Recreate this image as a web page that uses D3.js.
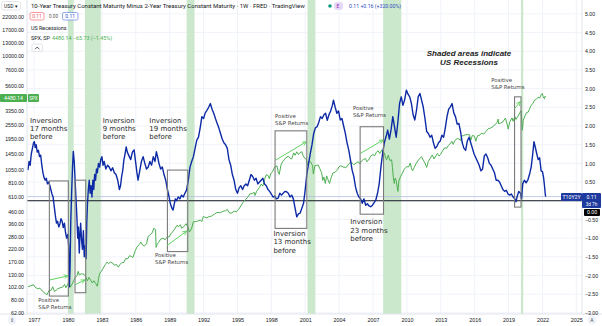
<!DOCTYPE html>
<meta charset="utf-8">
<body style="margin:0;background:#fff">
<script src="https://d3js.org/d3.v7.min.js"></script>
<svg></svg>
<script>
var width = 602;
var height = 326;

// ---- data ----
var recessions = [[1980.0, 1980.5], [1981.5, 1982.9], [1990.5, 1991.2], [2001.2, 2001.9], [2007.9, 2009.5], [2020.1, 2020.3]];

var spreadYears = [1976.45,1976.55,1976.65,1976.75,1976.85,1976.95,1977.02,1977.10,1977.18,1977.28,1977.38,1977.48,1977.58,1977.68,1977.78,1977.88,1977.98,1978.08,1978.18,1978.28,1978.38,1978.48,1978.58,1978.68,1978.78,1978.88,1978.98,1979.08,1979.18,1979.28,1979.38,1979.48,1979.58,1979.68,1979.78,1979.88,1979.98,1980.06,1980.12,1980.18,1980.24,1980.32,1980.40,1980.47,1980.55,1980.62,1980.70,1980.78,1980.86,1980.92,1981.00,1981.06,1981.12,1981.20,1981.28,1981.36,1981.44,1981.52,1981.60,1981.66,1981.72,1981.80,1981.88,1981.96,1982.04,1982.12,1982.20,1982.28,1982.36,1982.44,1982.52,1982.60,1982.70,1982.80,1982.90,1983.00,1983.10,1983.20,1983.35,1983.50,1983.65,1983.80,1983.95,1984.10,1984.25,1984.40,1984.55,1984.65,1984.75,1984.85,1984.95,1985.05,1985.15,1985.25,1985.40,1985.55,1985.70,1985.85,1986.00,1986.10,1986.20,1986.35,1986.50,1986.65,1986.80,1986.95,1987.10,1987.25,1987.40,1987.55,1987.70,1987.82,1987.95,1988.05,1988.20,1988.35,1988.50,1988.65,1988.80,1988.95,1989.05,1989.20,1989.30,1989.40,1989.50,1989.60,1989.75,1989.90,1990.05,1990.20,1990.35,1990.50,1990.65,1990.80,1990.95,1991.10,1991.25,1991.40,1991.55,1991.70,1991.85,1992.00,1992.15,1992.30,1992.45,1992.60,1992.75,1992.90,1993.05,1993.20,1993.35,1993.50,1993.65,1993.80,1993.95,1994.10,1994.25,1994.40,1994.55,1994.70,1994.85,1995.00,1995.15,1995.30,1995.45,1995.60,1995.75,1995.90,1996.05,1996.20,1996.35,1996.50,1996.65,1996.80,1996.95,1997.10,1997.25,1997.40,1997.55,1997.70,1997.85,1998.00,1998.15,1998.30,1998.45,1998.60,1998.75,1998.90,1999.05,1999.20,1999.35,1999.50,1999.65,1999.80,1999.95,2000.10,2000.25,2000.40,2000.55,2000.70,2000.85,2001.00,2001.15,2001.30,2001.45,2001.60,2001.75,2001.90,2002.05,2002.20,2002.35,2002.50,2002.65,2002.80,2002.95,2003.10,2003.25,2003.40,2003.50,2003.65,2003.80,2003.95,2004.10,2004.25,2004.40,2004.55,2004.70,2004.85,2005.00,2005.15,2005.30,2005.45,2005.60,2005.75,2005.90,2006.05,2006.20,2006.35,2006.50,2006.65,2006.80,2006.95,2007.10,2007.25,2007.40,2007.55,2007.70,2007.85,2008.00,2008.15,2008.30,2008.45,2008.60,2008.75,2008.90,2009.05,2009.20,2009.35,2009.50,2009.65,2009.80,2009.95,2010.10,2010.25,2010.40,2010.55,2010.70,2010.85,2011.00,2011.15,2011.30,2011.45,2011.60,2011.75,2011.90,2012.05,2012.20,2012.35,2012.50,2012.65,2012.80,2012.95,2013.10,2013.25,2013.40,2013.55,2013.70,2013.85,2014.00,2014.15,2014.30,2014.45,2014.60,2014.75,2014.90,2015.05,2015.20,2015.35,2015.50,2015.65,2015.80,2015.95,2016.10,2016.25,2016.40,2016.55,2016.70,2016.85,2017.00,2017.15,2017.30,2017.45,2017.60,2017.75,2017.90,2018.05,2018.20,2018.35,2018.50,2018.65,2018.80,2018.95,2019.10,2019.25,2019.40,2019.55,2019.65,2019.75,2019.90,2020.05,2020.15,2020.25,2020.40,2020.55,2020.70,2020.85,2021.00,2021.12,2021.25,2021.35,2021.50,2021.62,2021.75,2021.88,2022.00,2022.10,2022.18,2022.24,2022.28];
var spreadValues = [0.82,1.05,0.95,1.25,1.40,1.55,1.58,1.42,1.50,1.30,1.35,1.18,1.22,0.95,0.75,0.62,0.55,0.60,0.45,0.50,0.42,0.30,0.18,0.10,-0.15,-0.40,-0.60,-0.55,-0.70,-0.62,-0.48,-0.55,-0.72,-0.60,-0.85,-1.00,-0.90,-1.20,-2.30,-1.80,-0.60,0.20,0.90,1.32,1.05,0.60,0.10,-0.40,-1.00,-0.70,-1.40,-0.90,-0.60,-1.05,-1.30,-0.80,-1.50,-1.20,-1.55,-0.60,-0.10,0.30,0.55,0.20,0.40,0.10,0.55,0.30,0.70,0.55,0.85,0.75,1.00,0.90,1.10,1.18,0.95,1.05,0.85,0.95,0.90,0.80,0.88,0.75,0.70,0.55,0.30,0.40,0.65,0.82,1.10,1.25,1.44,1.30,1.20,1.10,1.30,1.36,1.00,0.75,0.55,0.80,1.05,1.18,1.00,0.85,0.90,1.05,0.95,1.18,1.05,1.31,1.15,1.00,0.85,0.90,0.70,0.55,0.30,0.10,-0.07,-0.20,-0.25,-0.10,0.05,0.00,0.10,0.05,0.15,0.10,0.20,0.29,0.55,0.90,1.05,1.18,1.40,1.62,1.70,1.95,2.25,2.20,2.35,2.42,2.50,2.60,2.45,2.34,2.20,2.07,1.95,1.80,1.65,1.55,1.50,1.40,1.10,0.95,0.70,0.55,0.30,0.20,0.35,0.40,0.30,0.40,0.45,0.40,0.55,0.70,0.65,0.55,0.60,0.45,0.50,0.55,0.60,0.45,0.40,0.30,0.25,0.18,0.10,0.12,0.05,0.07,0.20,0.15,0.20,0.25,0.24,0.20,0.10,0.15,0.05,-0.20,-0.43,-0.35,-0.33,-0.20,-0.07,0.30,0.73,1.00,1.27,1.50,1.80,1.95,1.98,2.10,2.25,2.20,2.30,2.34,2.15,2.30,2.40,2.55,2.69,2.50,2.34,2.40,2.16,2.20,2.00,1.80,1.55,1.36,1.10,0.82,0.65,0.37,0.20,0.10,0.05,-0.07,0.05,-0.12,-0.08,-0.14,-0.16,-0.12,-0.05,0.02,0.20,0.46,0.90,1.27,1.55,1.71,1.89,1.65,1.90,2.25,1.98,1.70,2.10,2.60,2.78,2.55,2.70,2.96,2.85,2.78,2.60,2.30,2.16,2.42,2.78,2.87,2.69,2.50,2.20,1.85,1.80,1.70,1.75,1.55,1.40,1.45,1.55,1.60,1.75,1.70,1.95,2.25,2.45,2.51,2.60,2.35,2.25,2.05,2.07,1.85,1.55,1.40,1.35,1.60,1.70,1.55,1.40,1.25,1.15,1.05,0.95,0.80,0.85,1.20,1.25,1.15,1.00,0.95,0.85,0.75,0.55,0.55,0.50,0.40,0.30,0.25,0.28,0.18,0.15,0.18,0.10,0.05,-0.03,0.10,0.25,0.20,0.05,0.45,0.55,0.48,0.55,0.70,0.90,1.20,1.58,1.45,1.25,1.10,1.15,0.80,0.78,0.62,0.40,0.20,0.11];

var spxYears = [1976.45,1976.7,1976.95,1977.1,1977.3,1977.5,1977.7,1977.85,1978.0,1978.15,1978.3,1978.5,1978.65,1978.8,1978.95,1979.1,1979.3,1979.5,1979.7,1979.8,1979.95,1980.1,1980.2,1980.35,1980.5,1980.65,1980.8,1980.9,1981.0,1981.15,1981.3,1981.45,1981.6,1981.72,1981.85,1982.0,1982.15,1982.3,1982.45,1982.6,1982.7,1982.8,1982.95,1983.1,1983.3,1983.45,1983.6,1983.75,1983.95,1984.1,1984.3,1984.45,1984.6,1984.75,1984.95,1985.1,1985.3,1985.45,1985.6,1985.75,1985.95,1986.1,1986.3,1986.45,1986.6,1986.75,1986.95,1987.1,1987.3,1987.45,1987.6,1987.75,1987.8,1987.9,1988.0,1988.2,1988.4,1988.6,1988.8,1988.95,1989.1,1989.3,1989.5,1989.65,1989.8,1989.95,1990.05,1990.25,1990.45,1990.6,1990.75,1990.95,1991.1,1991.3,1991.5,1991.7,1991.85,1991.98,1992.1,1992.3,1992.5,1992.7,1992.95,1993.2,1993.5,1993.7,1993.95,1994.1,1994.3,1994.5,1994.7,1994.9,1995.1,1995.3,1995.5,1995.7,1995.95,1996.1,1996.3,1996.5,1996.55,1996.7,1996.95,1997.1,1997.25,1997.4,1997.55,1997.7,1997.82,1997.95,1998.1,1998.3,1998.5,1998.62,1998.7,1998.85,1998.98,1999.15,1999.3,1999.5,1999.65,1999.8,1999.98,2000.1,2000.25,2000.4,2000.55,2000.7,2000.8,2000.95,2001.1,2001.2,2001.35,2001.5,2001.65,2001.72,2001.85,2001.98,2002.15,2002.3,2002.45,2002.55,2002.65,2002.78,2002.9,2002.98,2003.15,2003.3,2003.45,2003.65,2003.85,2003.98,2004.15,2004.35,2004.55,2004.7,2004.85,2004.98,2005.15,2005.3,2005.5,2005.7,2005.82,2005.98,2006.15,2006.35,2006.45,2006.6,2006.8,2006.98,2007.15,2007.3,2007.45,2007.6,2007.78,2007.9,2008.0,2008.1,2008.2,2008.35,2008.5,2008.65,2008.72,2008.8,2008.88,2008.95,2009.05,2009.15,2009.2,2009.3,2009.45,2009.6,2009.75,2009.98,2010.15,2010.3,2010.4,2010.5,2010.65,2010.8,2010.98,2011.15,2011.3,2011.45,2011.6,2011.75,2011.9,2012.05,2012.25,2012.4,2012.55,2012.7,2012.85,2012.98,2013.15,2013.35,2013.5,2013.65,2013.8,2013.98,2014.1,2014.25,2014.45,2014.6,2014.75,2014.85,2014.98,2015.15,2015.35,2015.55,2015.65,2015.8,2015.98,2016.1,2016.25,2016.45,2016.6,2016.8,2016.98,2017.2,2017.4,2017.6,2017.8,2017.98,2018.08,2018.12,2018.3,2018.5,2018.72,2018.85,2018.97,2019.1,2019.3,2019.4,2019.55,2019.65,2019.8,2019.98,2020.1,2020.18,2020.22,2020.3,2020.45,2020.6,2020.75,2020.85,2020.98,2021.15,2021.3,2021.45,2021.6,2021.75,2021.9,2021.99,2022.05,2022.12,2022.18,2022.23,2022.28];
var spxValues = [103,105,107,102,99,100,96,92,90,88,95,96,103,94,96,99,101,102,108,101,107,114,102,108,116,124,128,140,130,133,133,131,124,116,124,118,111,116,110,104,121,134,140,148,160,168,163,168,165,158,160,152,160,166,167,180,180,191,188,184,211,226,238,250,236,231,242,280,290,300,330,318,225,240,247,265,270,262,278,277,294,310,330,349,340,353,329,340,360,340,305,330,375,375,380,387,375,417,410,405,415,418,435,450,448,460,466,478,445,445,462,455,478,512,550,580,615,650,655,670,630,685,740,790,760,870,950,940,880,970,1010,1110,1135,990,960,1150,1229,1280,1340,1370,1320,1300,1469,1400,1500,1420,1480,1500,1400,1320,1300,1150,1250,1220,1140,965,1140,1148,1150,1070,990,850,910,800,930,880,800,900,985,1000,1050,1112,1140,1110,1100,1115,1180,1212,1200,1160,1200,1230,1180,1248,1290,1310,1230,1270,1380,1418,1390,1490,1530,1450,1560,1440,1468,1350,1280,1400,1260,1280,1100,900,800,890,850,735,683,850,920,980,1060,1115,1110,1200,1080,1030,1100,1180,1258,1320,1360,1270,1200,1100,1240,1310,1410,1300,1380,1450,1380,1426,1520,1630,1600,1690,1750,1848,1740,1880,1950,1930,1880,2060,2059,2100,2110,2100,1880,2080,2044,1850,2060,2090,2170,2130,2239,2370,2400,2470,2570,2674,2870,2620,2650,2720,2930,2650,2350,2700,2940,2750,3020,2850,3000,3231,3380,2700,2300,2800,3050,3270,3300,3500,3756,3900,4180,4250,4420,4360,4690,4766,4500,4350,4300,4540,4480];

var xTickYears = [1977,1980,1983,1986,1989,1992,1995,1998,2001,2004,2007,2010,2013,2016,2019,2022,2025];
var spxTicks = [22000,17000,13000,10000,7600,5600,3350,2550,1950,1450,1050,810,610,460,360,280,220,170,130,102,80,62];
var spreadTicks = [5,4.5,4,3.5,3,2.5,2,1.5,1,0.5,-0.5,-1,-1.5,-2,-2.5,-3];

// annotation boxes: [fromYear, toYear, topSpread, bottomSpread]
var boxes = [[1978.35,1980.03,0.53,-2.55],[1980.62,1981.57,0.55,-2.46],[1988.8,1990.6,0.82,-1.36],[1998.33,2001.14,1.87,-0.74],[2005.86,2007.93,1.98,-0.36],[2019.53,2020.1,2.78,-0.17]];
// arrows drawn on the S&P axis: [fromYear, fromSpx, toYear, toSpx]
var arrows = [[1978.4,118,1980.0,128],[1980.62,107,1981.5,118],[1988.75,233,1990.5,311],[1998.4,1275,2001.1,1830],[2005.9,1456,2007.9,1896],[2019.55,3556,2020.05,4060]];
var inversionNotes = [["Inversion","17 months","before"],["Inversion","9 months","before"],["Inversion","19 months","before"],["Inversion","13 months","before"],["Inversion","23 months","before"]];
var inversionAt = [[1976.63,2.09],[1983.07,2.09],[1987.2,2.09],[1998.18,-0.94],[2004.98,-0.63]];
var returnsAt = [[1977.37,-2.71],[1987.7,-1.5],[1998.33,2.2],[2005.22,2.44],[2017.47,3.17]];

// ---- scales ----
var plotL = 27, plotR = 582, plotT = 0, plotB = 314;
var x = d3.scaleLinear().domain([1976.37, 2025.5]).range([plotL, plotR]);
var ySpread = d3.scaleLinear().domain([-3.03, 5.37]).range([plotB, plotT]);
var ySpx = d3.scaleLog().domain([60, 30500]).range([plotB, plotT]);

var svg = d3.select("svg")
    .attr("width", width)
    .attr("height", height)
    .style("display", "block")
    .style("background-color", "#fff")
    .style("font-family", "Roboto, 'Liberation Sans', sans-serif");

var pane = svg.append("g");
pane.append("clipPath").attr("id", "clip")
    .append("rect").attr("x", plotL).attr("y", plotT).attr("width", plotR - plotL).attr("height", plotB - plotT);

// grid
pane.selectAll(".vgrid").data(xTickYears).enter().append("line")
    .attr("x1", d => x(d)).attr("x2", d => x(d)).attr("y1", plotT).attr("y2", plotB)
    .attr("stroke", "#f0f3fa").attr("stroke-width", 1);
pane.selectAll(".hgrid").data(spreadTicks.concat([0])).enter().append("line")
    .attr("x1", plotL).attr("x2", plotR).attr("y1", d => ySpread(d)).attr("y2", d => ySpread(d))
    .attr("stroke", "#f0f3fa").attr("stroke-width", 1);

// recession shading
pane.selectAll(".rec").data(recessions).enter().append("rect")
    .attr("x", d => x(d[0])).attr("width", d => Math.max(2, x(d[1]) - x(d[0])))
    .attr("y", plotT).attr("height", plotB - plotT)
    .attr("fill", "#c8e6c9").attr("opacity", 0.95);

// last value price line and zero line
pane.append("line").attr("x1", plotL).attr("x2", plotR)
    .attr("y1", ySpread(0.11)).attr("y2", ySpread(0.11))
    .attr("stroke", "#b2bde0").attr("stroke-width", 0.8);
pane.append("line").attr("x1", plotL).attr("x2", plotR)
    .attr("y1", ySpread(0)).attr("y2", ySpread(0))
    .attr("stroke", "#131722").attr("stroke-width", 1);

// S&P 500 line
var spxLine = d3.line().x((d, i) => x(spxYears[i])).y(d => ySpx(d));
pane.append("path").datum(spxValues).attr("d", spxLine)
    .attr("fill", "none").attr("stroke", "#4caf50").attr("stroke-width", 1)
    .attr("clip-path", "url(#clip)");

// spread line
var spreadLine = d3.line().x((d, i) => x(spreadYears[i])).y(d => ySpread(d));
pane.append("path").datum(spreadValues).attr("d", spreadLine)
    .attr("fill", "none").attr("stroke", "#0d2aa6").attr("stroke-width", 1.4)
    .attr("stroke-linejoin", "round")
    .attr("clip-path", "url(#clip)");

// boxes
pane.selectAll(".box").data(boxes).enter().append("rect")
    .attr("x", d => x(d[0])).attr("y", d => ySpread(d[2]))
    .attr("width", d => x(d[1]) - x(d[0])).attr("height", d => ySpread(d[3]) - ySpread(d[2]))
    .attr("fill", "none").attr("stroke", "#7b7b7b").attr("stroke-width", 1.1);

// arrows
svg.append("defs").append("marker").attr("id", "head")
    .attr("viewBox", "0 0 10 10").attr("refX", 9).attr("refY", 5)
    .attr("markerWidth", 5).attr("markerHeight", 5).attr("orient", "auto")
    .append("path").attr("d", "M1,1L9,5L1,9").attr("fill", "none").attr("stroke", "#5fd35f").attr("stroke-width", 1.6);
pane.selectAll(".arrow").data(arrows).enter().append("line")
    .attr("x1", d => x(d[0])).attr("y1", d => ySpx(d[1]))
    .attr("x2", d => x(d[2])).attr("y2", d => ySpx(d[3]))
    .attr("stroke", "#5fd35f").attr("stroke-width", 1).attr("marker-end", "url(#head)");

// text notes, one text element per line
var notes = pane.append("g").style("font-family", "'DejaVu Sans', sans-serif").attr("fill", "#2b2b2b");
inversionNotes.forEach(function (lines, i) {
    lines.forEach(function (s, j) {
        notes.append("text").attr("x", x(inversionAt[i][0])).attr("y", ySpread(inversionAt[i][1]) + j * 8.4)
            .style("font-size", "7px").text(s);
    });
});
returnsAt.forEach(function (p) {
    notes.append("text").attr("x", x(p[0])).attr("y", ySpread(p[1]))
        .style("font-size", "5.4px").attr("fill", "#444").text("Positive");
    notes.append("text").attr("x", x(p[0])).attr("y", ySpread(p[1]) + 7)
        .style("font-size", "5.4px").attr("fill", "#444").text("S&P Returns");
});
["Shaded areas indicate", "US Recessions"].forEach(function (s, j) {
    notes.append("text").attr("text-anchor", "middle").attr("x", 469).attr("y", 56 + j * 9.4)
        .style("font-family", "'Liberation Sans', Arial, sans-serif")
        .style("font-size", "8px").style("font-style", "italic").style("font-weight", "bold")
        .attr("fill", "#222").text(s);
});

// ---- axes ----
var axisText = "#131722";
svg.append("line").attr("x1", plotR).attr("x2", plotR).attr("y1", 0).attr("y2", plotB).attr("stroke", "#e0e3eb");
svg.append("line").attr("x1", plotL).attr("x2", plotL).attr("y1", 0).attr("y2", plotB).attr("stroke", "#e0e3eb");
svg.append("line").attr("x1", 0).attr("x2", width).attr("y1", plotB).attr("y2", plotB).attr("stroke", "#e0e3eb");

var rightAxis = d3.axisRight(ySpread).tickValues(spreadTicks).tickSize(0).tickPadding(3)
    .tickFormat(d3.format(".2f"));
svg.append("g").attr("transform", "translate(" + plotR + ",0)").call(rightAxis)
    .call(g => g.select(".domain").remove())
    .selectAll("text").attr("fill", axisText).style("font-size", "5.2px");

var leftAxis = d3.axisLeft(ySpx).tickValues(spxTicks).tickSize(0).tickPadding(3)
    .tickFormat(d3.format(".2f"));
svg.append("g").attr("transform", "translate(" + plotL + ",0)").call(leftAxis)
    .call(g => g.select(".domain").remove())
    .selectAll("text").attr("fill", axisText).style("font-size", "5.2px");

var bottomAxis = d3.axisBottom(x).tickValues(xTickYears).tickSize(0).tickPadding(4)
    .tickFormat(d3.format("d"));
svg.append("g").attr("transform", "translate(0," + plotB + ")").call(bottomAxis)
    .call(g => g.select(".domain").remove())
    .selectAll("text").attr("fill", axisText).style("font-size", "5.4px");

// last value labels
function tag(xp, yp, w, h, fill, txt, col, size) {
    svg.append("rect").attr("x", xp).attr("y", yp).attr("width", w).attr("height", h).attr("fill", fill).attr("rx", 1);
    svg.append("text").attr("x", xp + w / 2).attr("y", yp + h / 2 + 1.9).attr("text-anchor", "middle")
        .attr("fill", col).style("font-size", size || "5.2px").text(txt);
}
tag(561, 193, 21, 8, "#1e3a9e", "T10Y2Y", "#fff");
tag(582, 193, 19, 15, "#1e3a9e", "", "#fff");
svg.append("text").attr("x", 591.5).attr("y", 199).attr("text-anchor", "middle").attr("fill", "#fff").style("font-size", "5.2px").text("0.11");
svg.append("text").attr("x", 591.5).attr("y", 205.5).attr("text-anchor", "middle").attr("fill", "#fff").style("font-size", "4.6px").text("3d 7h");
tag(584, 209, 16, 7, "#000", "0.00", "#fff");
tag(0, 94, 27, 8, "#4caf50", "4480.14", "#fff");
tag(28, 94, 11, 8, "#4caf50", "SPX", "#fff", "4.6px");

// ---- legend header ----
var head = svg.append("g").style("font-size", "6px").attr("fill", "#131722");
head.append("rect").attr("x", 1.5).attr("y", 1.5).attr("width", 19).attr("height", 8.5).attr("rx", 2)
    .attr("fill", "#fff").attr("stroke", "#d1d4dc").attr("stroke-width", 0.6);
head.append("text").attr("x", 4).attr("y", 8).style("font-size", "5px").text("USD ▾");
head.append("text").attr("x", 31).attr("y", 8)
    .text("10-Year Treasury Constant Maturity Minus 2-Year Treasury Constant Maturity · 1W · FRED · TradingView");
head.append("circle").attr("cx", 330).attr("cy", 6).attr("r", 1.8).attr("fill", "#089981");
head.append("rect").attr("x", 334).attr("y", 2).attr("width", 9).attr("height", 8).attr("rx", 3).attr("fill", "#e6d8f7");
head.append("text").attr("x", 336.5).attr("y", 8).attr("fill", "#9c27b0").style("font-size", "5px").text("E");
head.append("text").attr("x", 349).attr("y", 8).attr("fill", "#2f4dbf").style("font-size", "5.2px").text("0.11  +0.16 (+320.00%)");

head.append("rect").attr("x", 30).attr("y", 12.5).attr("width", 14).attr("height", 7.5).attr("rx", 1.5)
    .attr("fill", "#fff").attr("stroke", "#f7525f").attr("stroke-width", 0.6);
head.append("text").attr("x", 37).attr("y", 18.2).attr("text-anchor", "middle").attr("fill", "#f7525f").style("font-size", "5px").text("0.11");
head.append("text").attr("x", 53.5).attr("y", 18.2).attr("text-anchor", "middle").attr("fill", "#555").style("font-size", "4.6px").text("0.00");
head.append("rect").attr("x", 62.5).attr("y", 12.5).attr("width", 15.5).attr("height", 7.5).attr("rx", 1.5)
    .attr("fill", "#fff").attr("stroke", "#4a6ee0").attr("stroke-width", 0.6);
head.append("text").attr("x", 70.2).attr("y", 18.2).attr("text-anchor", "middle").attr("fill", "#2f4dbf").style("font-size", "5px").text("0.11");
head.append("text").attr("x", 31).attr("y", 30).style("font-size", "5.4px").text("US Recessions");
head.append("text").attr("x", 31).attr("y", 40).style("font-size", "5.4px").text("SPX, SP");
head.append("text").attr("x", 52).attr("y", 40).attr("fill", "#4caf50").style("font-size", "5.4px").text("4480.14  −65.73 (−1.45%)");
head.append("rect").attr("x", 32).attr("y", 44).attr("width", 10.5).attr("height", 7.5).attr("rx", 1.5)
    .attr("fill", "#fff").attr("stroke", "#d1d4dc").attr("stroke-width", 0.6);
head.append("path").attr("d", "M35,49.3L37.2,47L39.4,49.3").attr("fill", "none").attr("stroke", "#131722").attr("stroke-width", 0.7);

// corner buttons
svg.append("circle").attr("cx", 12).attr("cy", 320).attr("r", 4.5).attr("fill", "#f0f3fa");
svg.append("text").attr("x", 12).attr("y", 322).attr("text-anchor", "middle").style("font-size", "5px").attr("fill", "#555").text("⇕");
svg.append("circle").attr("cx", 592).attr("cy", 320).attr("r", 4.5).attr("fill", "#f0f3fa");
svg.append("text").attr("x", 592).attr("y", 322).attr("text-anchor", "middle").style("font-size", "5px").attr("fill", "#555").text("A");
</script>
